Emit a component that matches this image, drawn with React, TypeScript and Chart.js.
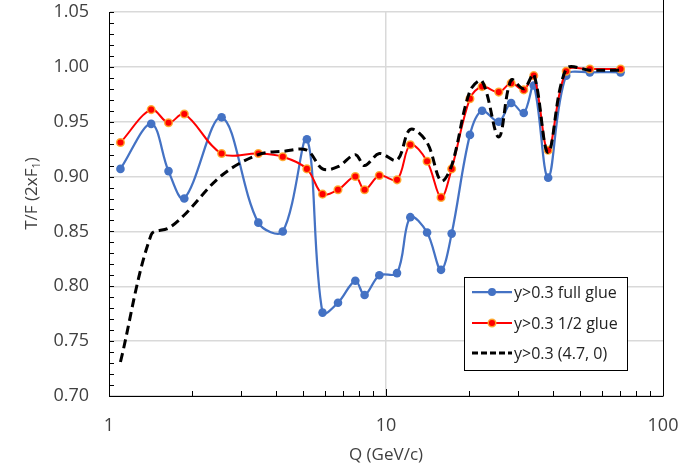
import React, { useEffect, useRef } from "react";
import { Chart, registerables } from "chart.js";

Chart.register(...registerables);

// Momentum points (GeV/c)
const momentum = [
  1.10, 1.42, 1.64, 1.87, 2.55, 3.46, 4.24, 5.18, 5.90, 6.71, 7.75, 8.37, 9.46, 10.96,
  12.24, 14.07, 15.80, 17.26, 20.09, 22.23, 25.53, 28.30, 31.43, 34.16, 38.50, 44.73, 54.43, 70.27,
];

// T/F ratio, y>0.3, full glue
const fullGlue = [
  0.907, 0.948, 0.905, 0.880, 0.954, 0.858, 0.850, 0.934, 0.776, 0.785, 0.805, 0.792, 0.810, 0.812,
  0.863, 0.849, 0.815, 0.848, 0.938, 0.960, 0.950, 0.967, 0.958, 0.983, 0.899, 0.992, 0.995, 0.995,
];

// T/F ratio, y>0.3, half glue
const halfGlue = [
  0.931, 0.961, 0.949, 0.957, 0.921, 0.921, 0.918, 0.907, 0.884, 0.888, 0.900, 0.888, 0.901, 0.897,
  0.929, 0.914, 0.881, 0.907, 0.971, 0.982, 0.977, 0.985, 0.979, 0.992, 0.924, 0.996, 0.998, 0.998,
];

// T/F ratio, y>0.3, parameters (4.7, 0)
const param47 = [
  0.731, 0.847, 0.853, 0.865, 0.901, 0.920, 0.923, 0.924, 0.907, 0.909, 0.920, 0.910, 0.921, 0.915,
  0.943, 0.931, 0.896, 0.910, 0.978, 0.987, 0.936, 0.988, 0.980, 0.993, 0.922, 0.998, 0.997, 0.997,
];

const seriesNames = ["y>0.3 full glue", "y>0.3 1/2 glue", "y>0.3 (4.7, 0)"];
const xTickLabels = [1, 10, 100];
const yMin = 0.7;
const yMax = 1.05;
const yStep = 0.05;

const FONT = '"Open Sans", "Noto Sans", sans-serif';
const TEXT = "#404040";
const BLUE = "#4472C4";
const RED = "#FF0000";
const RED_EDGE = "rgba(255,170,40,0.9)";

const toPoints = (ys: number[]) => momentum.map((q, i) => ({ x: q, y: ys[i] }));

const decorations = {
  id: "decorations",
  afterDraw(chart: any) {
    const { ctx, chartArea, scales } = chart;
    const xs = scales.x;
    const ys = scales.y;
    const { left, right, bottom } = chartArea;
    ctx.save();

    // inward tick marks on the value axis
    ctx.strokeStyle = "#000";
    ctx.lineWidth = 1;
    for (let i = 0; i <= 35; i++) {
      const v = yMin + i * 0.01;
      const py = Math.round(ys.getPixelForValue(v)) + 0.5;
      ctx.beginPath();
      ctx.moveTo(left, py);
      ctx.lineTo(left + 5, py);
      ctx.stroke();
    }
    // inward tick marks on the log axis
    for (const dec of [1, 10]) {
      for (let k = 1; k <= 9; k++) {
        const v = dec * k;
        const px = Math.round(xs.getPixelForValue(v)) + 0.5;
        const len = k === 1 ? 7 : 5;
        ctx.beginPath();
        ctx.moveTo(px, bottom);
        ctx.lineTo(px, bottom - len);
        ctx.stroke();
      }
    }
    const p100 = Math.round(xs.getPixelForValue(100)) + 0.5;

    // right frame line
    ctx.beginPath();
    ctx.moveTo(p100, 0);
    ctx.lineTo(p100, bottom);
    ctx.stroke();

    // axis titles
    ctx.fillStyle = TEXT;
    ctx.font = `17px ${FONT}`;
    ctx.textAlign = "center";
    ctx.textBaseline = "middle";
    ctx.fillText("Q (GeV/c)", (left + right) / 2, 455);

    ctx.save();
    ctx.translate(32, 193.5);
    ctx.rotate(-Math.PI / 2);
    ctx.textAlign = "left";
    ctx.textBaseline = "middle";
    const partA = "T/F (2xF";
    const sub = "1";
    const partB = ")";
    ctx.font = `17px ${FONT}`;
    const wA = ctx.measureText(partA).width;
    const wB = ctx.measureText(partB).width;
    ctx.font = `11px ${FONT}`;
    const wS = ctx.measureText(sub).width;
    const total = wA + wS + wB;
    let cx = -total / 2;
    ctx.font = `17px ${FONT}`;
    ctx.fillText(partA, cx, 0);
    cx += wA;
    ctx.font = `11px ${FONT}`;
    ctx.fillText(sub, cx, 5);
    cx += wS;
    ctx.font = `17px ${FONT}`;
    ctx.fillText(partB, cx, 0);
    ctx.restore();

    // legend box
    const bx = 464.5, by = 277.5, bw = 163, bh = 93;
    ctx.fillStyle = "#fff";
    ctx.fillRect(bx, by, bw, bh);
    ctx.strokeStyle = "#000";
    ctx.lineWidth = 1;
    ctx.strokeRect(bx, by, bw, bh);

    const rows = [292, 323, 353];
    const lx0 = 472, lx1 = 512, tx = 514;
    ctx.font = `16px ${FONT}`;
    ctx.textAlign = "left";
    ctx.textBaseline = "middle";

    // full glue sample
    ctx.strokeStyle = BLUE;
    ctx.lineWidth = 2.25;
    ctx.beginPath();
    ctx.moveTo(lx0, rows[0]);
    ctx.lineTo(lx1, rows[0]);
    ctx.stroke();
    ctx.fillStyle = BLUE;
    ctx.beginPath();
    ctx.arc((lx0 + lx1) / 2, rows[0], 4, 0, Math.PI * 2);
    ctx.fill();

    // half glue sample
    ctx.strokeStyle = RED;
    ctx.lineWidth = 2;
    ctx.beginPath();
    ctx.moveTo(lx0, rows[1]);
    ctx.lineTo(lx1, rows[1]);
    ctx.stroke();
    ctx.fillStyle = RED;
    ctx.strokeStyle = RED_EDGE;
    ctx.lineWidth = 1.5;
    ctx.beginPath();
    ctx.arc((lx0 + lx1) / 2, rows[1], 3.8, 0, Math.PI * 2);
    ctx.fill();
    ctx.stroke();

    // (4.7, 0) sample
    ctx.strokeStyle = "#000";
    ctx.lineWidth = 3;
    ctx.setLineDash([6, 3]);
    ctx.beginPath();
    ctx.moveTo(lx0, rows[2]);
    ctx.lineTo(lx1, rows[2]);
    ctx.stroke();
    ctx.setLineDash([]);

    ctx.fillStyle = "#222";
    seriesNames.forEach((name, i) => ctx.fillText(name, tx, rows[i] + 1));

    ctx.restore();
  },
};

export default function App() {
  const canvasRef = useRef<HTMLCanvasElement | null>(null);

  useEffect(() => {
    if (!canvasRef.current) return;
    const chart = new Chart(canvasRef.current, {
      type: "scatter",
      data: {
        datasets: [
          {
            label: seriesNames[0],
            data: toPoints(fullGlue),
            showLine: true,
            borderColor: BLUE,
            backgroundColor: BLUE,
            borderWidth: 2.25,
            pointRadius: 4.3,
            pointBorderWidth: 0,
            pointBackgroundColor: BLUE,
            tension: 0.35,
            order: 3,
          },
          {
            label: seriesNames[1],
            data: toPoints(halfGlue),
            showLine: true,
            borderColor: RED,
            backgroundColor: RED,
            borderWidth: 2,
            pointRadius: 3.8,
            pointBorderWidth: 1.5,
            pointBorderColor: RED_EDGE,
            pointBackgroundColor: RED,
            tension: 0.35,
            order: 2,
          },
          {
            label: seriesNames[2],
            data: toPoints(param47),
            showLine: true,
            borderColor: "#000",
            borderWidth: 3,
            borderDash: [9, 5],
            pointRadius: 0,
            tension: 0.35,
            order: 1,
          },
        ],
      },
      options: {
        responsive: false,
        animation: false,
        devicePixelRatio: 1,
        layout: { padding: { left: 0, top: 12, right: 18, bottom: 0 } },
        plugins: {
          legend: { display: false },
          tooltip: { enabled: false },
        },
        scales: {
          x: {
            type: "logarithmic",
            min: 1,
            max: 100,
            border: { color: "#000", width: 1 },
            grid: {
              drawTicks: true,
              tickLength: 19,
              tickColor: "rgba(0,0,0,0)",
              lineWidth: 1.5,
              color: (c: any) => (c.tick && c.tick.value === 10 ? "#d9d9d9" : "rgba(0,0,0,0)"),
            },
            ticks: {
              autoSkip: false,
              maxRotation: 0,
              padding: 0,
              color: TEXT,
              font: { family: FONT, size: 18 },
              callback: (v: any) => (xTickLabels.includes(Number(v)) ? String(Number(v)) : ""),
            },
            afterFit: (s: any) => {
              s.height = 78;
            },
          },
          y: {
            min: yMin,
            max: yMax,
            border: { color: "#000", width: 1 },
            grid: {
              drawTicks: true,
              tickLength: 20,
              tickColor: "rgba(0,0,0,0)",
              color: "#d9d9d9",
              lineWidth: 1.5,
            },
            ticks: {
              stepSize: yStep,
              padding: 0,
              color: TEXT,
              font: { family: FONT, size: 18 },
              callback: (v: any) => Number(v).toFixed(2),
            },
            afterFit: (s: any) => {
              s.width = 109;
            },
          },
        },
      },
      plugins: [decorations],
    });
    return () => chart.destroy();
  }, []);

  return (
    <div
      style={{
        position: "fixed",
        left: 0,
        top: 0,
        width: 681,
        height: 474,
        background: "#fff",
      }}
    >
      <canvas ref={canvasRef} width={681} height={474} />
    </div>
  );
}
